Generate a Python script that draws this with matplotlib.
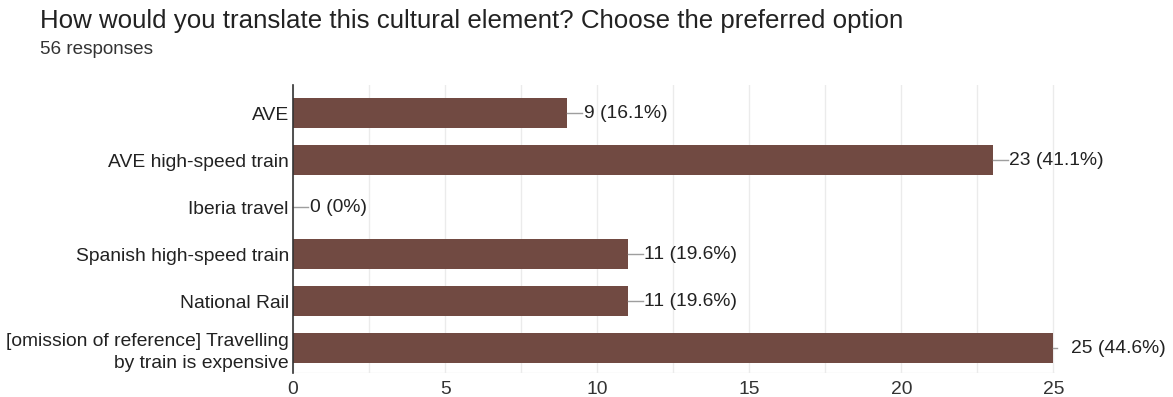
import matplotlib
matplotlib.use("Agg")
import matplotlib.pyplot as plt
import numpy as np

categories = ["AVE", "AVE high-speed train", "Iberia travel", "Spanish high-speed train",
              "National Rail", "[omission of reference] Travelling\nby train is expensive"]
counts = [9, 23, 0, 11, 11, 25]
labels = ["9 (16.1%)", "23 (41.1%)", "0 (0%)", "11 (19.6%)", "11 (19.6%)", "25 (44.6%)"]
xticks = [0, 5, 10, 15, 20, 25]
title = "How would you translate this cultural element? Choose the preferred option"
subtitle = "56 responses"

FONT = ['Liberation Sans', 'DejaVu Sans']
plt.rcParams['font.family'] = FONT
W, H = 1173, 397
fig = plt.figure(figsize=(W/100, H/100), dpi=100)
renderer = fig.canvas.get_renderer()


def fit(t, target_w):
    bb = t.get_window_extent(renderer=renderer)
    t.set_fontsize(t.get_fontsize() * target_w / bb.width)


ax = fig.add_axes([293/W, 1-373/H, (1055-293)/W, (373-85)/H])

y = np.arange(len(categories))
color = "#714a42"
ax.barh(y, counts, height=0.64, color=color, zorder=3)
ax.set_ylim(5.53, -0.6)
ax.set_xlim(0, 25.05)
ax.set_yticks(y)
ax.set_yticklabels(categories, fontsize=13, color="#222222", linespacing=1.4)
ax.set_xticks(xticks)
ax.set_xticklabels([str(t) for t in xticks], fontsize=13, color="#333333")
ax.set_xticks(np.arange(2.5, 25, 5), minor=True)
ax.grid(True, axis='x', which='both', color="#ebebeb", linewidth=1, zorder=0)
ax.axhline(5.53, color="#ebebeb", lw=1, zorder=0)
ax.tick_params(axis='both', which='both', length=0)
ax.tick_params(axis='y', pad=3)
ax.tick_params(axis='x', pad=6)
for s in ['top', 'right', 'bottom']:
    ax.spines[s].set_visible(False)
ax.spines['left'].set_color("#333333")
ax.spines['left'].set_linewidth(1.2)
ax.spines['left'].set_zorder(4)

# fit y tick label size to reference width ("AVE high-speed train" ~180px)
fig.canvas.draw()
ref_lab = ax.get_yticklabels()[1]
bb = ref_lab.get_window_extent(renderer=renderer)
ysize = 13 * 180 / bb.width
for t in ax.get_yticklabels():
    t.set_fontsize(ysize)
for t in ax.get_xticklabels():
    t.set_fontsize(ysize)

for yi, c, lab in zip(y, counts, labels):
    if c >= 25:
        ax.plot([c, c+0.1], [yi, yi], color="#9e9e9e", lw=1, zorder=3, clip_on=False)
        ax.annotate(lab, xy=(c, yi), xytext=(18*0.72, 0), textcoords='offset points',
                    va='center', ha='left', fontsize=ysize, color="#222222",
                    annotation_clip=False)
    else:
        ax.plot([c, c+0.5], [yi, yi], color="#9e9e9e", lw=1, zorder=3, clip_on=False)
        ax.text(c+0.55, yi, lab, va='center', ha='left', fontsize=ysize, color="#222222")

tt = fig.text(40/W, 1-21/H, title, fontsize=14, color="#222222", va='center', ha='left')
st = fig.text(40/W, 1-50/H, subtitle, fontsize=11, color="#333333", va='center', ha='left')
fit(tt, 870)
fit(st, 113)

fig.savefig("out.png", dpi=100, facecolor="white")
